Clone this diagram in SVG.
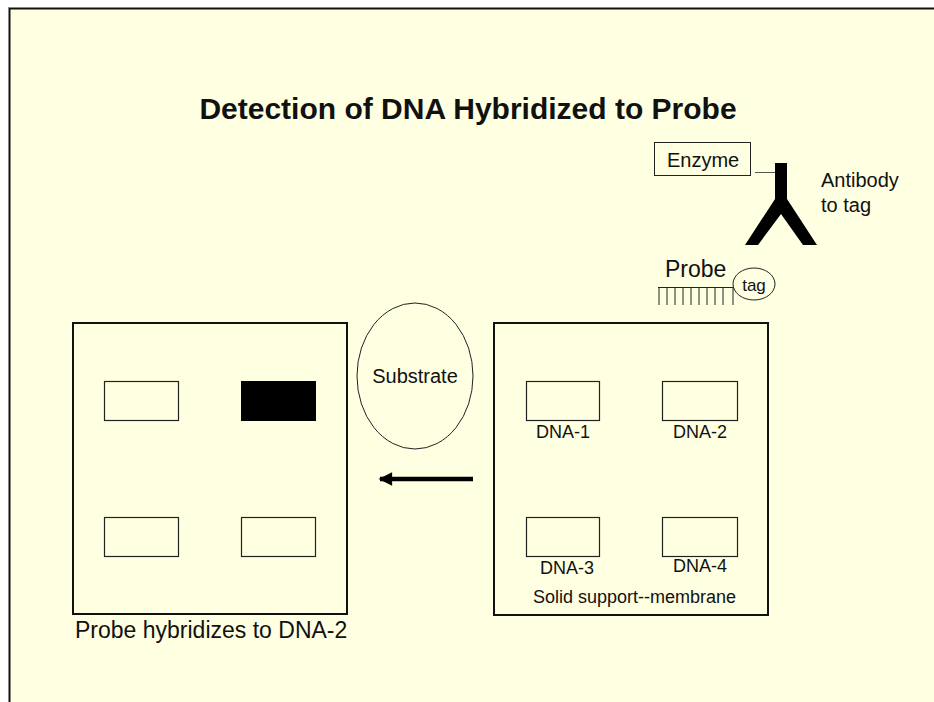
<svg xmlns="http://www.w3.org/2000/svg" width="934" height="702" viewBox="0 0 934 702">
  <defs>
    <style>
      text { font-family: "Liberation Sans", Arial, sans-serif; fill: #111; }
      .title { font-size: 30px; font-weight: bold; }
      .lbl { font-size: 20px; }
      .big { font-size: 23px; }
      .dna { font-size: 18px; }
      .panel { fill: none; stroke: #111; stroke-width: 2; }
      .spot { fill: none; stroke: #222; stroke-width: 1.2; }
      .thin { fill: none; stroke: #222; stroke-width: 1; }
    </style>
    <marker id="head" viewBox="0 0 10 10" refX="9" refY="5" markerWidth="3.4" markerHeight="3" orient="auto" markerUnits="strokeWidth">
      <path d="M0,0 L10,5 L0,10 z" fill="#000"/>
    </marker>
  </defs>

  <!-- page -->
  <rect x="0" y="0" width="934" height="702" fill="#ffffff"/>
  <rect x="9.5" y="8.5" width="940" height="710" fill="#ffffe1" stroke="#111" stroke-width="2"/>
  <path d="M8.5 720 V7.5 H950" fill="none" stroke="#888" stroke-width="1"/>

  <g id="title">
    <text class="title" x="468" y="119" text-anchor="middle">Detection of DNA Hybridized to Probe</text>
  </g>

  <!-- membrane after development -->
  <g id="result-membrane">
    <rect class="panel" x="73" y="323" width="274" height="291"/>
    <rect class="spot" x="104.5" y="381.5" width="74" height="39"/>
    <rect x="241" y="381" width="75" height="40" fill="#000"/>
    <rect class="spot" x="104.5" y="517.5" width="74" height="39"/>
    <rect class="spot" x="241.5" y="517.5" width="74" height="39"/>
    <text class="big" x="75" y="638">Probe hybridizes to DNA-2</text>
  </g>

  <g id="substrate">
    <ellipse class="thin" cx="415" cy="376" rx="58" ry="73"/>
    <text class="lbl" x="415" y="383" text-anchor="middle">Substrate</text>
  </g>

  <!-- solid support with blotted DNA -->
  <g id="support-membrane">
    <rect class="panel" x="494" y="323" width="274" height="292"/>
    <rect class="spot" x="526.5" y="381.5" width="73" height="39"/>
    <rect class="spot" x="662.5" y="381.5" width="75" height="39"/>
    <rect class="spot" x="526.5" y="517.5" width="73" height="39"/>
    <rect class="spot" x="662.5" y="517.5" width="75" height="39"/>
    <text class="dna" x="536" y="438">DNA-1</text>
    <text class="dna" x="673" y="438">DNA-2</text>
    <text class="dna" x="540" y="574">DNA-3</text>
    <text class="dna" x="673" y="572">DNA-4</text>
    <text class="dna" x="533" y="603">Solid support--membrane</text>
  </g>

  <g id="enzyme">
    <rect class="thin" x="654.5" y="142.5" width="96" height="33"/>
    <text class="lbl" x="667" y="167">Enzyme</text>
  </g>

  <g id="antibody">
    <polygon points="775,163 787,163 787,199 817,245 803,245 781,214 758,245 745,245 775,199" fill="#000"/>
    <text class="lbl" x="821" y="187">Antibody</text>
    <text class="lbl" x="821" y="212">to tag</text>
  </g>

  <g id="probe">
    <text class="big" x="665" y="277">Probe</text>
    <path class="thin" d="M658 287.5 H733 M659 287 V305 M667 287 V305 M675 287 V305 M683 287 V305 M691 287 V305 M699 287 V305 M707 287 V305 M715 287 V305 M723 287 V305 M733 287 V305"/>
  </g>

  <g id="tag">
    <ellipse class="thin" cx="754" cy="284" rx="21" ry="16"/>
    <text x="754" y="291" text-anchor="middle" style="font-size:17px">tag</text>
  </g>

  <g id="connectors">
    <line x1="755" y1="172.5" x2="775" y2="172.5" stroke="#555" stroke-width="1"/>
    <line x1="473" y1="479" x2="380" y2="479" stroke="#000" stroke-width="4.5" marker-end="url(#head)"/>
  </g>
</svg>
